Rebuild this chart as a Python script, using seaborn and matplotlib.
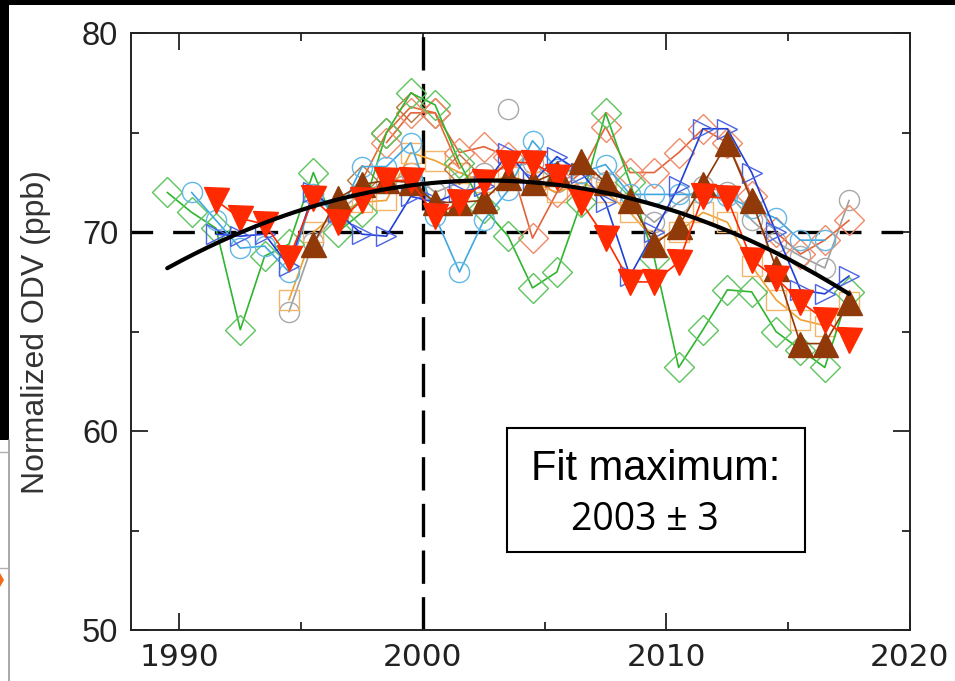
import matplotlib
matplotlib.use("Agg")
import numpy as np
import pandas as pd
import matplotlib.pyplot as plt
import seaborn as sns
from matplotlib.patches import Rectangle, Polygon
from matplotlib.lines import Line2D

# ---------------- data ----------------
YEARS = [1989.5, 1990.5, 1991.5, 1992.5, 1993.5, 1994.5, 1995.5, 1996.5, 1997.5,
         1998.5, 1999.5, 2000.5, 2001.5, 2002.5, 2003.5, 2004.5, 2005.5, 2006.5,
         2007.5, 2008.5, 2009.5, 2010.5, 2011.5, 2012.5, 2013.5, 2014.5, 2015.5,
         2016.5, 2017.5]
N = None

green = [72.0, 71.0, 70.2, 65.1, 68.8, 69.4, 73.0, 70.0, 71.0, 75.0, 77.0, 76.4,
         73.5, 71.2, 69.8, 67.2, 68.0, 71.5, 76.0, 72.5, 68.7, 63.2, 65.1, 67.1,
         67.0, 65.0, 64.1, 63.2, 67.0]
light_blue = [N, 72.0, 70.6, 69.2, 69.3, 68.0, 71.9, 70.8, 73.3, 73.3, 74.5, 70.8,
              68.0, 70.6, 72.1, 74.6, 73.2, 73.0, 73.4, 71.9, 71.9, 71.9, 71.9, 71.8,
              71.2, 70.7, 69.6, 69.6, N]
gray = [N, N, N, N, N, 66.0, 69.5, 71.0, 72.0, 72.5, 73.0, 72.0, 72.5, 73.0, N,
        73.5, 72.5, 73.0, 72.5, 71.5, 70.5, 71.5, 72.3, 72.0, 70.6, 69.5, 68.8,
        68.2, 71.6]
gray_outlier_year = [2003.5]
gray_outlier = [76.2]
orange_sq = [N, N, N, N, N, 66.6, 70.0, 71.0, 71.5, 71.6, 74.0, 73.6, 73.0, 72.5,
             72.8, 72.5, 72.0, 72.5, 72.0, 71.0, 69.6, 70.0, 71.0, 70.5, 68.3, 66.6,
             65.6, 65.3, 66.5]
salmon = [N, N, N, N, N, N, N, N, N, 74.5, 76.0, 76.0, 74.0, 74.3, 73.8, 69.7,
          72.0, 73.0, 75.3, 73.0, 73.0, 74.0, 75.2, 74.5, 71.8, 70.0, 68.9, 69.6, 70.6]
sienna = [N, N, N, N, N, N, N, N, 72.6, 75.0, 76.3, 76.0, 73.2, N, N, N, N, N, N,
          N, N, N, N, N, N, N, N, N, N]
blue = [N, N, 69.9, 69.8, 69.9, 68.3, 72.0, 71.0, 69.9, 69.8, 71.8, 71.5, 72.0,
        72.3, 74.0, 72.5, 73.8, 73.0, 71.5, 67.8, 70.0, 72.3, 75.2, 75.2, 73.0,
        70.0, 67.1, 66.9, 67.8]
brown = [N, N, N, N, N, N, 69.4, 71.7, 72.4, 72.6, 72.5, 71.5, 71.5, 71.6, 72.8,
         72.5, 73.0, 73.6, 72.5, 71.6, 69.4, 70.3, 72.4, 74.5, 71.6, 68.2, 64.4,
         64.4, 66.5]
red = [N, N, 71.6, 70.7, 70.4, 68.7, 71.7, 70.5, 71.6, 72.6, 72.6, 70.8, 71.5,
       72.5, 73.5, 73.5, 72.8, 71.5, 69.7, 67.5, 67.5, 68.5, 71.8, 71.7, 68.6,
       67.7, 66.5, 65.6, 64.6]

# quadratic fit parameters
FIT_PEAK_YEAR = 2002.6
FIT_PEAK_VALUE = 72.6
FIT_CURVATURE = 0.0257
FIT_RANGE = (1989.5, 2017.5)

X_TICKS = [1990, 2000, 2010, 2020]
X_MINOR = [1995, 2005, 2015]
Y_TICKS = [50, 60, 70, 80]
Y_MINOR = [55, 65, 75]

# ---------------- style ----------------
sns.set_style("white")
plt.rcParams["font.family"] = ["DejaVu Sans"]

W, H = 955, 681
fig = plt.figure(figsize=(W / 100, H / 100), dpi=100)
L, R, T, B = 130.7, 910.0, 33.3, 630.0
ax = fig.add_axes([L / W, 1 - B / H, (R - L) / W, (B - T) / H])

series = [
    # values, marker, ms, edge colour, line colour, filled, zorder
    (gray, "o", 14.5, "#a9a9a9", "#a0a0a0", False, 3),
    (orange_sq, "s", 15, "#f4b46a", "#f0a030", False, 3.1),
    (sienna, "D", 15, "#b8763a", "#e06a34", False, 3.15),
    (salmon, "D", 15, "#ef8a68", "#e2643a", False, 3.2),
    (green, "D", 15, "#5cc45c", "#2fb52f", False, 3.4),
    (light_blue, "o", 14.5, "#62b8e6", "#3fa8e0", False, 3.5),
    (blue, ">", 15, "#4a64e4", "#2040d8", False, 3.6),
    (brown, "^", 18, "#8f3a08", "#8f3a08", True, 4),
    (red, "v", 18, "#ff2a00", "#ff2a00", True, 4.1),
]

for vals, mk, ms, mec, lc, filled, z in series:
    df = pd.DataFrame({"year": YEARS, "odv": vals}).dropna()
    sns.lineplot(data=df, x="year", y="odv", ax=ax, color=lc, linewidth=1.2,
                 marker=mk, markersize=ms,
                 markerfacecolor=(mec if filled else "none"),
                 markeredgecolor=mec, markeredgewidth=1.0,
                 errorbar=None, legend=False, zorder=z)

dfo = pd.DataFrame({"year": gray_outlier_year, "odv": gray_outlier})
sns.lineplot(data=dfo, x="year", y="odv", ax=ax, color="#a0a0a0", marker="o",
             markersize=14.5, markerfacecolor="none", markeredgecolor="#a9a9a9",
             markeredgewidth=1.0, errorbar=None, legend=False, zorder=3)

fx = np.linspace(FIT_RANGE[0], FIT_RANGE[1], 200)
fy = FIT_PEAK_VALUE - FIT_CURVATURE * (fx - FIT_PEAK_YEAR) ** 2
sns.lineplot(x=fx, y=fy, ax=ax, color="black", linewidth=3.0, zorder=10,
             errorbar=None, legend=False)

ax.axhline(70, color="black", linewidth=2.4, dashes=(6.5, 6), zorder=2)
ax.axvline(2000, color="black", linewidth=2.4, dashes=(10, 4), zorder=2)

ax.set_xlim(1988, 2020)
ax.set_ylim(50, 80)
ax.set_xticks(X_TICKS)
ax.set_xticks(X_MINOR, minor=True)
ax.set_yticks(Y_TICKS)
ax.set_yticks(Y_MINOR, minor=True)
ax.set_xticklabels([str(v) for v in X_TICKS], fontsize=22.5,
                   fontfamily="DejaVu Sans", color="#222222")
ax.set_yticklabels([str(v) for v in Y_TICKS], fontsize=23.5,
                   fontfamily="Liberation Sans", color="#222222")
ax.tick_params(which="both", direction="in", top=True, right=True,
               bottom=True, left=True, width=1.3, color="#222222")
ax.tick_params(which="major", length=12)
ax.tick_params(which="minor", length=6)
ax.tick_params(axis="x", which="major", pad=9)
ax.tick_params(axis="y", which="major", pad=9)
for sp in ax.spines.values():
    sp.set_linewidth(1.4)
    sp.set_color("#222222")
    sp.set_visible(True)

ax.set_xlabel("")
ax.set_ylabel("Normalized ODV (ppb)", fontsize=23, fontfamily="Liberation Sans",
              color="#333333")
ax.yaxis.set_label_coords(-0.1023, 0.5)

# annotation box
ax.add_patch(Rectangle((0.4829, 0.1307), 0.8653 - 0.4829, 0.3385 - 0.1307,
                       transform=ax.transAxes, facecolor="white",
                       edgecolor="black", linewidth=1.5, zorder=20))
ax.text(0.674, 0.2514, "Fit maximum:", transform=ax.transAxes, ha="center",
        va="baseline", fontsize=30, fontfamily="Liberation Sans", color="black",
        zorder=21)
ax.text(0.660, 0.1676, "2003 \u00b1 3", transform=ax.transAxes, ha="center",
        va="baseline", fontsize=27, fontfamily="Open Sans", color="black",
        zorder=21)

# screenshot frame remnants
fig.patches.append(Rectangle((0, 1 - 5 / H), 1, 5 / H, transform=fig.transFigure,
                             facecolor="black", edgecolor="none", zorder=0))
fig.patches.append(Rectangle((0, 1 - 440 / H), 9 / W, 440 / H,
                             transform=fig.transFigure, facecolor="black",
                             edgecolor="none", zorder=0))
fig.lines.append(Line2D([8.5 / W, 8.5 / W], [0, 1 - 440 / H], transform=fig.transFigure,
                        color="#9a9a9a", linewidth=1.2))
fig.lines.append(Line2D([0, 8.5 / W], [1 - 452 / H, 1 - 452 / H], transform=fig.transFigure,
                        color="#b0b0b0", linewidth=1.0))
fig.lines.append(Line2D([0, 8.5 / W], [1 - 568 / H, 1 - 568 / H], transform=fig.transFigure,
                        color="#b0b0b0", linewidth=1.0))
fig.patches.append(Polygon([(0, 1 - 573 / H), (4 / W, 1 - 580 / H), (0, 1 - 587 / H)],
                           closed=True, transform=fig.transFigure,
                           facecolor="#f26b1d", edgecolor="none"))

fig.savefig("out.png", dpi=100)
